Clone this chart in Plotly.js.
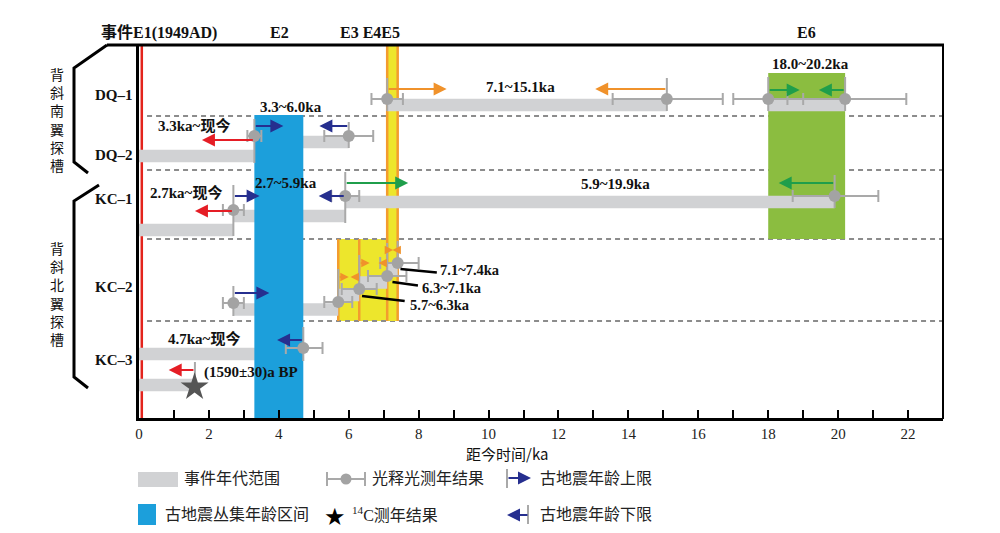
<!DOCTYPE html>
<html><head><meta charset="utf-8">
<script src="https://cdn.plot.ly/plotly-3.0.1.min.js"></script>
<style>html,body{margin:0;padding:0;background:#fff}</style>
</head><body><div id="chart" style="width:1000px;height:533px"></div>
<script>
// ================= DATA =================
const xTickVals  = [0,1,2,3,4,5,6,7,8,9,10,11,12,13,14,15,16,17,18,19,20,21,22,23];
const xTickText  = ['0','','2','','4','','6','','8','','10','','12','','14','','16','','18','','20','','22',''];
const xTitle     = '距今时间/ka';

const eventNames = ['事件E1(1949AD)', 'E2', 'E3 E4E5', 'E6'];
const e1Age      = 0.08;            // 1949 AD
const e2Range    = [3.3, 4.7];      // clustered age interval (blue)
const e3Bounds   = [5.7, 6.3, 7.1, 7.4];
const e45Range   = [7.1, 7.4];
const e6Range    = [18.0, 20.2];

const trenchNames = ['DQ–1', 'DQ–2', 'KC–1', 'KC–2', 'KC–3'];
const groupNames  = ['背斜南翼探槽', '背斜北翼探槽'];

// event age ranges (grey bars), ka
const barStart = [7.1, 18.0, 3.3, 0.0, 5.9, 2.7, 0.0, 2.7, 5.7, 6.3, 7.1, 0.0, 0.0];
const barEnd   = [15.1, 20.2, 6.0, 3.3, 19.9, 5.9, 2.7, 5.7, 6.3, 7.1, 7.4, 4.7, 1.6];
const barLane  = [6.0, 6.0, 9.7, 11.1, 15.7, 17.1, 18.5, 26.45, 25.0, 23.75, 22.45, 30.9, 34.0];

// OSL ages with errors
const oslAge      = [7.1, 15.1, 18.0, 20.2, 3.3, 6.0, 2.7, 5.9, 19.9, 2.7, 5.7, 6.3, 7.1, 7.4, 4.7];
const oslErrMinus = [0.45, 1.55, 1.0, 1.65, 0.2, 0.7, 0.3, 0.4, 1.2, 0.3, 0.4, 0.5, 0.55, 0.5, 0.5];
const oslErrPlus  = [0.45, 1.6, 1.0, 1.75, 0.2, 0.7, 0.3, 0.4, 1.25, 0.3, 0.4, 0.5, 0.55, 0.6, 0.55];
const oslLane     = [5.4, 5.4, 5.4, 5.4, 9.1, 9.1, 16.5, 15.1, 15.1, 25.8, 25.7, 24.4, 23.1, 21.8, 30.3];

// 14C age
const c14Age   = [1.59];
const c14Lane  = [34.2];
const c14Label = '(1590±30)a BP';

// age-limit arrows (from sample age toward constraint)
const orangeFrom = [7.1, 15.1],  orangeTo = [8.8, 13.05], orangeLane = [4.4, 4.4];
const greenFrom  = [18.0, 20.2, 5.9, 19.9], greenTo = [18.9, 19.45, 7.7, 18.3], greenLane = [4.5, 4.5, 13.8, 13.8];
const blueFrom   = [3.3, 6.0, 2.7, 5.9, 2.7, 4.7], blueTo = [4.13, 5.16, 3.45, 5.14, 3.73, 3.95];
const blueLane   = [8.1, 8.1, 15.1, 15.1, 24.8, 29.5];
const redFrom    = [3.3, 2.7, 1.6], redTo = [1.8, 1.6, 0.85], redLane = [9.5, 16.6, 32.5];
const smallFrom  = [5.7, 6.3, 6.3, 7.1, 7.1, 7.4], smallTo = [6.0, 6.05, 6.6, 6.85, 7.27, 7.25];
const smallLane  = [23.2, 23.2, 21.8, 21.8, 20.5, 20.5];

// arrow stems (sample positions)
const stemX      = [7.1, 15.1, 18.0, 20.2, 3.3, 6.0, 2.7, 5.9, 19.9, 2.7, 5.7, 6.3, 7.1, 7.4, 4.7, 1.6];
const stemTop    = [3.3, 3.3, 3.2, 3.2, 7.4, 7.7, 14.0, 12.7, 13.0, 24.1, 22.4, 21.0, 19.8, 19.6, 28.2, 31.7];
const stemBottom = [6.6, 6.6, 6.6, 6.6, 11.8, 10.3, 19.1, 17.8, 16.3, 27.1, 26.0, 24.8, 23.5, 22.2, 31.6, 33.3];

// range labels
const rangeLabels = ['7.1~15.1ka','18.0~20.2ka','3.3~6.0ka','3.3ka~现今','2.7ka~现今','2.7~5.9ka','5.9~19.9ka','4.7ka~现今'];
const rangeLabelX = [10.9, 19.2, 4.35, 1.58, 1.35, 4.2, 13.64, 1.86];
const rangeLabelY = [4.2, 1.9, 6.2, 8.0, 14.7, 13.8, 13.9, 29.3];
const kc2Labels   = ['7.1~7.4ka', '6.3~7.1ka', '5.7~6.3ka'];
const kc2LabelX   = [8.55, 8.04, 7.69], kc2LabelY = [22.5, 24.25, 26.0];
const leaderX0 = [7.48, 7.25, 6.38], leaderY0 = [22.4, 23.7, 25.1];
const leaderX1 = [8.52, 7.98, 7.6],  leaderY1 = [22.75, 24.05, 25.6];

const laneDividers = [7.1, 12.5, 19.4, 27.6];
const legendLabels = ['事件年代范围','光释光测年结果','古地震年龄上限','古地震丛集年龄区间','<sup>14</sup>C测年结果','古地震年龄下限'];

// ================= STYLE =================
const C = {
  bar:'#d1d2d4', osl:'#a3a3a3', err:'#a9a9a9', blue:'#1c9fdb', green:'#8bbd40',
  yellow:'#ede62c', orange:'#f39c2f', red:'#e3231c', navy:'#262f8f',
  gArrow:'#1f9e4b', oArrow:'#f0922b', rArrow:'#e51d25', star:'#555555', dash:'#8c8c8c'
};
const SERIF = 'Liberation Serif, Noto Sans CJK SC, serif';
const CJK = 'Noto Sans CJK SC, sans-serif';
const L = 139, T = 45, PW = 804, PH = 373;
const xp = px => (px - L) / PW;
const yp = py => (T + PH - py) / PH;
const Y_MAX = 37.3, X_MAX = 23;

// ================= TRACES =================
const traces = [];
traces.push({
  type:'bar', orientation:'h', base:barStart, x:barEnd.map((e,i)=>e-barStart[i]), y:barLane,
  width:barLane.map(()=>1.25), marker:{color:C.bar, line:{width:0}}, hoverinfo:'skip', showlegend:false
});
traces.push({
  type:'bar', orientation:'h', base:[e2Range[0]], x:[e2Range[1]-e2Range[0]], y:[(7.0+Y_MAX)/2],
  width:[Y_MAX-7.0], marker:{color:C.blue, line:{width:0}}, hoverinfo:'skip', showlegend:false
});
const sx=[], sy=[];
stemX.forEach((x,i)=>{ sx.push(x,x,null); sy.push(stemTop[i],stemBottom[i],null); });
traces.push({type:'scatter', mode:'lines', x:sx, y:sy, line:{color:C.err, width:2}, hoverinfo:'skip', showlegend:false});
traces.push({
  type:'scatter', mode:'markers', x:oslAge, y:oslLane,
  marker:{color:C.osl, size:12},
  error_x:{type:'data', symmetric:false, array:oslErrPlus, arrayminus:oslErrMinus, color:C.err, thickness:2, width:6},
  hoverinfo:'skip', showlegend:false
});
traces.push({type:'scatter', mode:'markers', x:c14Age, y:c14Lane,
  marker:{symbol:'star', size:21, color:C.star}, hoverinfo:'skip', showlegend:false});

// ================= SHAPES =================
const shapes = [];
const dl = (x0,y0,x1,y1,color,width,extra) => Object.assign({type:'line', xref:'x', yref:'y', x0, y0, x1, y1, line:{color, width}, layer:'below'}, extra||{});
shapes.push({type:'rect', xref:'x', yref:'y', x0:e3Bounds[0], x1:e3Bounds[3], y0:laneDividers[2], y1:laneDividers[3], fillcolor:C.yellow, line:{width:0}, layer:'below'});
laneDividers.forEach(y => shapes.push(dl(0.23, y, X_MAX, y, C.dash, 2, {line:{color:C.dash, width:2, dash:'5px,4px'}})));
shapes.push({type:'rect', xref:'x', yref:'y', x0:e45Range[0], x1:e45Range[1], y0:0, y1:laneDividers[3], fillcolor:C.yellow, line:{width:0}, layer:'below'});
shapes.push(dl(e3Bounds[0], laneDividers[2], e3Bounds[0], laneDividers[3], C.orange, 2.5));
shapes.push(dl(e3Bounds[1], laneDividers[2], e3Bounds[1], laneDividers[3], C.orange, 2.5));
shapes.push(dl(e45Range[0], 0, e45Range[0], laneDividers[3], C.orange, 2.5));
shapes.push(dl(e45Range[1], 0, e45Range[1], laneDividers[3], C.orange, 2.5));
shapes.push({type:'rect', xref:'x', yref:'y', x0:e6Range[0], x1:e6Range[1], y0:2.8, y1:laneDividers[2], fillcolor:C.green, line:{width:0}, layer:'below'});
shapes.push(dl(e1Age, 0, e1Age, Y_MAX, C.red, 2.5));
// leader lines
leaderX0.forEach((x,i)=>shapes.push(dl(x, leaderY0[i], leaderX1[i], leaderY1[i], '#000', 2.5, {layer:'above'})));
// frame & brackets (paper)
const pl = (x0,y0,x1,y1,w,color) => ({type:'line', xref:'paper', yref:'paper', x0:xp(x0), y0:yp(y0), x1:xp(x1), y1:yp(y1), line:{color:color||'#000', width:w}, layer:'above'});
shapes.push(pl(107,45,944,45,3));
shapes.push(pl(943,45,943,419,2));
const path = pts => ({type:'path', xref:'paper', yref:'paper', path:'M'+pts.map(p=>xp(p[0])+','+yp(p[1])).join('L'), line:{color:'#000', width:3}, layer:'above'});
shapes.push(path([[107,45],[74,68],[74,162],[88,173]]));
shapes.push(path([[99,185],[74,201],[74,377],[88,388]]));
// legend icons
shapes.push({type:'rect', xref:'paper', yref:'paper', x0:xp(138), x1:xp(178), y0:yp(472), y1:yp(487), fillcolor:C.bar, line:{width:0}});
shapes.push(pl(327,479,365,479,2,C.err));
shapes.push(pl(327,472,327,486,2,C.err));
shapes.push(pl(365,472,365,486,2,C.err));
shapes.push({type:'circle', xref:'paper', yref:'paper', xsizemode:'pixel', ysizemode:'pixel', xanchor:xp(346), yanchor:yp(479), x0:-5.5, x1:5.5, y0:-5.5, y1:5.5, fillcolor:C.osl, line:{width:0}});
shapes.push(pl(507,469,507,488,2,C.err));
shapes.push({type:'rect', xref:'paper', yref:'paper', x0:xp(138), x1:xp(156), y0:yp(504), y1:yp(525), fillcolor:C.blue, line:{width:0}});
shapes.push(pl(528,505,528,524,2,C.err));

// ================= ANNOTATIONS =================
const ann = [];
const arrow = (from, to, lane, color, size, width) => ({x:to, y:lane, ax:from, ay:lane, xref:'x', yref:'y', axref:'x', ayref:'y',
  text:'', showarrow:true, arrowhead:2, arrowsize:size, arrowwidth:width, arrowcolor:color, standoff:0, startstandoff:0});
orangeFrom.forEach((f,i)=>ann.push(arrow(f, orangeTo[i], orangeLane[i], C.oArrow, 1.3, 2)));
greenFrom.forEach((f,i)=>ann.push(arrow(f, greenTo[i], greenLane[i], C.gArrow, 1.3, 2)));
blueFrom.forEach((f,i)=>ann.push(arrow(f, blueTo[i], blueLane[i], C.navy, 1.3, 2)));
redFrom.forEach((f,i)=>ann.push(arrow(f, redTo[i], redLane[i], C.rArrow, 1.3, 2)));
smallFrom.forEach((f,i)=>ann.push(arrow(f, smallTo[i], smallLane[i], C.oArrow, 1.3, 1.3)));

const txt = (x, y, ref, text, font, xanchor) => ({x, y, xref:ref, yref:ref==='x'?'y':'paper', text, showarrow:false, font,
  xanchor:xanchor||'center', yanchor:'middle'});
const lblFont = {family:SERIF, size:15, color:'#111'};
rangeLabels.forEach((t,i)=>ann.push(txt(rangeLabelX[i], rangeLabelY[i], 'x', '<b>'+t+'</b>', lblFont)));
kc2Labels.forEach((t,i)=>ann.push(txt(kc2LabelX[i], kc2LabelY[i], 'x', '<b>'+t+'</b>', {family:SERIF, size:14.5, color:'#111'}, 'left')));
ann.push(txt(3.2, 32.7, 'x', '<b>'+c14Label+'</b>', lblFont));

// top event labels
const evX = [159, 279, 370, 806];
eventNames.forEach((t,i)=>ann.push(txt(xp(evX[i]), yp(33), 'paper', '<b>'+t+'</b>', {family:SERIF, size:16, color:'#111'})));
// trench labels
const trY = [95, 155, 199, 287, 360];
trenchNames.forEach((t,i)=>ann.push(txt(xp(114), yp(trY[i]), 'paper', '<b>'+t+'</b>', {family:SERIF, size:15, color:'#111'})));
// vertical group labels (one character per line)
const grpCenter = [119, 293];
groupNames.forEach((g,gi)=>ann.push(txt(xp(57), yp(grpCenter[gi]), 'paper', Array.from(g).join('<br>'), {family:CJK, size:14, color:'#111'})));
// axis title
ann.push(txt(xp(507), yp(453), 'paper', xTitle, {family:CJK, size:15, color:'#111'}));
// legend
const legX = [182, 370, 538, 163, 350, 538], legY = [479, 479, 479, 514, 514, 514];
legendLabels.forEach((t,i)=>ann.push(txt(xp(legX[i]), yp(legY[i]), 'paper', t, {family:SERIF, size:16, color:'#222'}, 'left')));
ann.push(txt(xp(335), yp(517), 'paper', '★', {family:'DejaVu Sans', size:24, color:'#000'}));
ann.push({x:xp(531), y:yp(478), xref:'paper', yref:'paper', ax:-24, ay:0, text:'', showarrow:true, arrowhead:2, arrowsize:1.3, arrowwidth:2, arrowcolor:C.navy, standoff:0});
ann.push({x:xp(507), y:yp(515), xref:'paper', yref:'paper', ax:22, ay:0, text:'', showarrow:true, arrowhead:2, arrowsize:1.3, arrowwidth:2, arrowcolor:C.navy, standoff:0});

// ================= LAYOUT =================
const layout = {
  width:1000, height:533, margin:{l:L, r:1000-L-PW, t:T, b:533-T-PH, pad:0},
  paper_bgcolor:'#fff', plot_bgcolor:'#fff', barmode:'overlay', showlegend:false,
  xaxis:{range:[0, X_MAX], tickmode:'array', tickvals:xTickVals, ticktext:xTickText, ticks:'inside', ticklen:8, tickwidth:2, tickcolor:'#000',
    showline:true, linewidth:3, linecolor:'#000', showgrid:false, zeroline:false, tickfont:{family:SERIF, size:15, color:'#222'}, fixedrange:true},
  yaxis:{range:[Y_MAX, 0], showline:true, linewidth:3, linecolor:'#000', showgrid:false, zeroline:false, showticklabels:false, ticks:'', fixedrange:true},
  shapes, annotations:ann
};
Plotly.newPlot('chart', traces, layout, {displayModeBar:false, staticPlot:true});
</script></body></html>
